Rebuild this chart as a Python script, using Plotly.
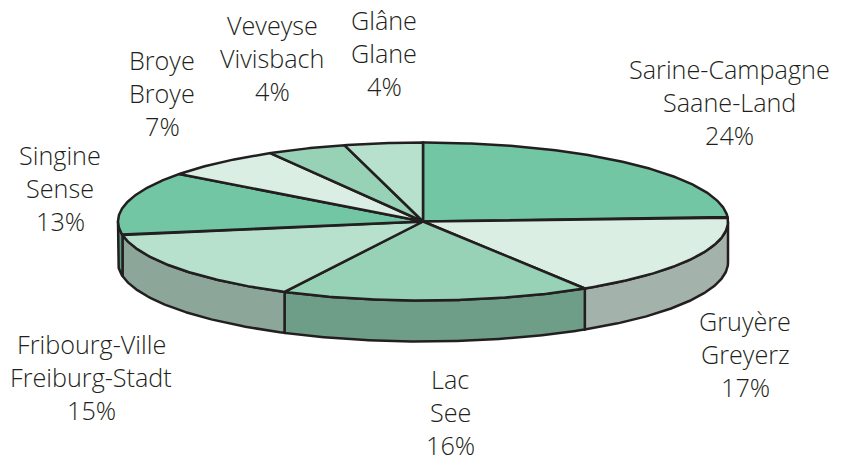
import numpy as np
import plotly.graph_objects as go

# Data
districts_fr = ["Sarine-Campagne", "Gruyère", "Lac", "Fribourg-Ville", "Singine", "Broye", "Veveyse", "Glâne"]
districts_de = ["Saane-Land", "Greyerz", "See", "Freiburg-Stadt", "Sense", "Broye", "Vivisbach", "Glane"]
shares = [24.1, 17.0, 16.4, 14.75, 13.0, 6.4, 4.2, 4.15]
share_labels = ["24%", "17%", "16%", "15%", "13%", "7%", "4%", "4%"]
top_colors = ["#72C6A4", "#DAEEE3", "#97D2B6", "#B7E0CD", "#72C6A4", "#DAEEE3", "#97D2B6", "#B7E0CD"]
side_colors = ["#5B9E85", "#A3B2AB", "#6F9E88", "#8CA79A", "#5B9E85", "#A3B2AB", "#6F9E88", "#8CA79A"]
label_x = [729, 745, 450, 91, 60, 162, 272, 384]
label_y = [69, 321, 379, 344, 155, 60, 25, 20]

# Layout of the tilted pie, in page pixels
CX, CY, RX, RY, DEPTH = 423.0, 221.5, 305, 79, 41
INK = "#231F20"
LINE_GAP = 33
FONT = dict(family="Open Sans", size=25.2, color="#231F20", weight=300)


def arc(a0, a1):
    t = np.radians(np.linspace(a0, a1, max(int(abs(a1 - a0) * 2), 2)))
    return CX + RX * np.sin(t), CY - RY * np.cos(t)


fig = go.Figure()
edges = np.concatenate([[0], np.cumsum(shares)]) / sum(shares) * 360

# Visible rim: the part of each slice on the near side of the ellipse
for i in range(len(shares)):
    a0, a1 = max(edges[i], 90), min(edges[i + 1], 270)
    if a1 <= a0:
        continue
    x, y = arc(a0, a1)
    fig.add_trace(go.Scatter(
        x=np.concatenate([x, x[::-1], x[:1]]),
        y=np.concatenate([y, y[::-1] + DEPTH, y[:1]]),
        mode="lines", fill="toself", fillcolor=side_colors[i],
        line=dict(color=INK, width=2.5), hoverinfo="skip"))

# Top surface
for i in range(len(shares)):
    x, y = arc(edges[i], edges[i + 1])
    fig.add_trace(go.Scatter(
        x=np.concatenate([[CX], x, [CX]]),
        y=np.concatenate([[CY], y, [CY]]),
        mode="lines", fill="toself", fillcolor=top_colors[i],
        line=dict(color=INK, width=2.5), hoverinfo="skip"))

# Labels, three lines each
for i in range(len(shares)):
    lines = [districts_fr[i], districts_de[i], share_labels[i]]
    for j, text in enumerate(lines):
        fig.add_annotation(x=label_x[i], y=label_y[i] + j * LINE_GAP, text=text,
                           showarrow=False, xanchor="center", yanchor="middle", font=FONT)

fig.update_layout(
    width=844, height=456, margin=dict(l=0, r=0, t=0, b=0), showlegend=False,
    paper_bgcolor="white", plot_bgcolor="white",
    xaxis=dict(range=[0, 844], visible=False),
    yaxis=dict(range=[456, 0], visible=False),
)
fig.write_html("out.html", config=dict(displayModeBar=False),
               post_script="document.body.style.margin='0';document.documentElement.style.overflow='hidden';")
